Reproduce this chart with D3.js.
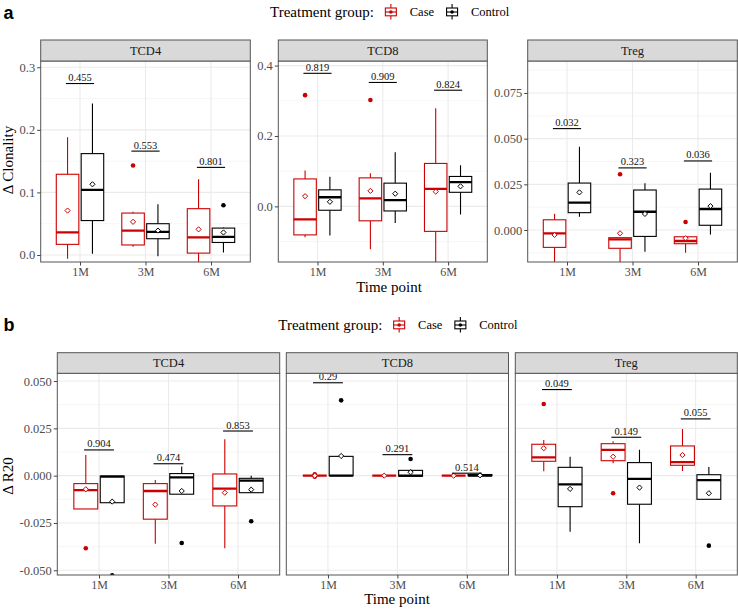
<!DOCTYPE html>
<html><head><meta charset="utf-8">
<script src="https://cdn.jsdelivr.net/npm/d3@7"></script>
<style>body{margin:0;background:#fff} svg{display:block}</style>
</head><body>
<svg id="chart" width="738" height="610"></svg>
<script>
// ---------------- DATA ----------------
const timepoints = ["1M", "3M", "6M"];
const groups = ["Case", "Control"];
const cells = ["TCD4", "TCD8", "Treg"];

// box summaries: [time, group, whiskerLow, q1, median, q3, whiskerHigh, mean]
const clonTCD4 = [
  ["1M","Case",   -0.006, 0.017, 0.036, 0.129, 0.188, 0.071],
  ["1M","Control", 0.002, 0.055, 0.104, 0.162, 0.242, 0.113],
  ["3M","Case",    0.013, 0.016, 0.039, 0.067, 0.069, 0.053],
  ["3M","Control",-0.002, 0.026, 0.037, 0.050, 0.081, 0.039],
  ["6M","Case",   -0.030, 0.003, 0.028, 0.074, 0.121, 0.041],
  ["6M","Control", 0.004, 0.020, 0.029, 0.043, 0.044, 0.036]
];
const clonTCD8 = [
  ["1M","Case",   -0.088,-0.081,-0.037, 0.078, 0.102, 0.029],
  ["1M","Control",-0.083,-0.011, 0.026, 0.047, 0.084, 0.013],
  ["3M","Case",   -0.122,-0.041, 0.023, 0.081, 0.094, 0.044],
  ["3M","Control",-0.047,-0.013, 0.018, 0.066, 0.154, 0.036],
  ["6M","Case",   -0.200,-0.071, 0.050, 0.122, 0.279, 0.042],
  ["6M","Control",-0.023, 0.040, 0.069, 0.085, 0.117, 0.057]
];
const clonTreg = [
  ["1M","Case",   -0.025,-0.0095,-0.0018, 0.0056, 0.0089,-0.0027],
  ["1M","Control", 0.0073,0.0095, 0.0150, 0.0257, 0.0456, 0.0206],
  ["3M","Case",   -0.020,-0.0100,-0.0051,-0.0042,-0.0042,-0.0018],
  ["3M","Control",-0.0119,-0.0035,0.0100, 0.0219, 0.0256, 0.0088],
  ["6M","Case",   -0.0124,-0.0075,-0.0060,-0.0037,-0.0036,-0.0045],
  ["6M","Control",-0.0024,0.0026, 0.0115, 0.0224, 0.0314, 0.0131]
];
const r20TCD4 = [
  ["1M","Case",   -0.0176,-0.0176,-0.0076,-0.0042, 0.0109,-0.0072],
  ["1M","Control",-0.0143,-0.0143,-0.0005,-0.0002,-0.0002,-0.0137],
  ["3M","Case",   -0.0360,-0.0230,-0.0081,-0.0042,-0.0023,-0.0153],
  ["3M","Control",-0.0098,-0.0098,-0.0009, 0.0011, 0.0048,-0.0081],
  ["6M","Case",   -0.0384,-0.0160,-0.0069, 0.0009, 0.0192,-0.0090],
  ["6M","Control",-0.0090,-0.0090,-0.0026,-0.0014, 0.0000,-0.0074]
];
const r20TCD8 = [
  ["1M","Case",    0, 0, 0, 0, 0, 0],
  ["1M","Control", 0, 0, 0, 0.0102, 0.0102, 0.0104],
  ["3M","Case",    0, 0, 0, 0, 0, 0],
  ["3M","Control",-0.0003,-0.0003, 0, 0.0028, 0.0033, 0.0018],
  ["6M","Case",    0, 0, 0, 0, 0, 0],
  ["6M","Control", 0, 0, 0, 0.0006, 0.0006, 0.0002]
];
const r20Treg = [
  ["1M","Case",    0.0023, 0.0076, 0.0097, 0.0166, 0.0189, 0.0145],
  ["1M","Control",-0.0296,-0.0164,-0.0046, 0.0044, 0.0100,-0.0070],
  ["3M","Case",    0.0065, 0.0079, 0.0136, 0.0169, 0.0182, 0.0100],
  ["3M","Control",-0.0357,-0.0151,-0.0017, 0.0069, 0.0137,-0.0063],
  ["6M","Case",    0.0025, 0.0055, 0.0072, 0.0157, 0.0247, 0.0109],
  ["6M","Control",-0.0125,-0.0125,-0.0024, 0.0005, 0.0046,-0.0093]
];

// outliers: [time, group, value]
const clonTCD4Out = [["3M","Case",0.143],["6M","Control",0.0794]];
const clonTCD8Out = [["1M","Case",0.316],["3M","Case",0.302]];
const clonTregOut = [["3M","Case",0.0305],["6M","Case",0.0044]];
const r20TCD4Out = [["1M","Case",-0.0384],["1M","Control",-0.0527],["3M","Control",-0.0356],["6M","Control",-0.0241]];
const r20TCD8Out = [["1M","Case",0.0007],["1M","Case",-0.0006],["1M","Case",0.0002],["1M","Control",0.0398],["3M","Control",0.0088]];
const r20TregOut = [["1M","Case",0.0379],["3M","Case",-0.0093],["6M","Control",-0.0370]];

// p-values: [time, label, bracket height]
const clonTCD4P = [["1M","0.455",0.274],["3M","0.553",0.166],["6M","0.801",0.140]];
const clonTCD8P = [["1M","0.819",0.378],["3M","0.909",0.352],["6M","0.824",0.330]];
const clonTregP = [["1M","0.032",0.0555],["3M","0.323",0.034],["6M","0.036",0.0378]];
const r20TCD4P = [["1M","0.904",0.0136],["3M","0.474",0.0063],["6M","0.853",0.0236]];
const r20TCD8P = [["1M","0.29",0.0491],["3M","0.291",0.0111],["6M","0.514",0.0013]];
const r20TregP = [["1M","0.049",0.0455],["3M","0.149",0.0203],["6M","0.055",0.030]];

// axis limits & ticks
const clonTCD4Lim = [-0.0112, 0.310], clonTCD4Ticks = [0, 0.1, 0.2, 0.3];
const clonTCD8Lim = [-0.158, 0.413],  clonTCD8Ticks = [0, 0.2, 0.4];
const clonTregLim = [-0.0175, 0.0925], clonTregTicks = [0, 0.025, 0.05, 0.075];
const r20Lim = [-0.0525, 0.0541], r20Ticks = [-0.05, -0.025, 0, 0.025, 0.05];

// ---------------- DRAWING ----------------
const svg = d3.select("#chart");
const SERIF = "'Liberation Serif','Times New Roman',Times,serif";
const SANS = "'Liberation Sans',Arial,Helvetica,sans-serif";
const colorOf = g => g === "Case" ? "#cc0000" : "#000000";
const noMinus = f => v => f(v).replace("\u2212", "-");
let clipId = 0;

function midpoints(t) {
  const out = [];
  for (let i = 0; i < t.length - 1; i++) out.push((t[i] + t[i+1]) / 2);
  const d = t[1] - t[0];
  out.unshift(t[0] - d/2); out.push(t[t.length-1] + d/2);
  return out;
}

function drawFacet(o) {
  const g = svg.append("g");
  const xs = d3.scalePoint().domain(timepoints).range([o.x0, o.x1]).padding(0.6);
  const step = xs.step();
  const ys = d3.scaleLinear().domain(o.domain).range([o.y1, o.y0]);
  const dodge = grp => (grp === "Case" ? -0.19 : 0.19) * step;
  const hw = 0.172 * step;

  g.append("rect").attr("x", o.x0).attr("y", o.y0).attr("width", o.x1 - o.x0).attr("height", o.y1 - o.y0).attr("fill", "#fff");
  const [lo, hi] = o.domain;
  g.selectAll(".mn").data(midpoints(o.ticks).filter(v => v > lo && v < hi)).join("line")
    .attr("x1", o.x0).attr("x2", o.x1).attr("y1", d => ys(d)).attr("y2", d => ys(d))
    .attr("stroke", "#f2f2f2").attr("stroke-width", 0.7);
  g.selectAll(".mj").data(o.ticks).join("line")
    .attr("x1", o.x0).attr("x2", o.x1).attr("y1", d => ys(d)).attr("y2", d => ys(d))
    .attr("stroke", "#ebebeb").attr("stroke-width", 1.1);
  g.selectAll(".mjx").data(timepoints).join("line")
    .attr("x1", d => xs(d)).attr("x2", d => xs(d)).attr("y1", o.y0).attr("y2", o.y1)
    .attr("stroke", "#ebebeb").attr("stroke-width", 1.1);

  const cid = "clip" + (clipId++);
  g.append("clipPath").attr("id", cid).append("rect")
    .attr("x", o.x0).attr("y", o.y0).attr("width", o.x1 - o.x0).attr("height", o.y1 - o.y0);
  const p = g.append("g").attr("clip-path", `url(#${cid})`);

  o.stats.forEach(s => {
    const [t, grp, wl, q1, med, q3, wh, mean] = s;
    const cx = xs(t) + dodge(grp), col = colorOf(grp);
    const bg = p.append("g");
    bg.append("line").attr("x1", cx).attr("x2", cx).attr("y1", ys(q3)).attr("y2", ys(wh)).attr("stroke", col).attr("stroke-width", 1.1);
    bg.append("line").attr("x1", cx).attr("x2", cx).attr("y1", ys(q1)).attr("y2", ys(wl)).attr("stroke", col).attr("stroke-width", 1.1);
    bg.append("rect").attr("x", cx - hw).attr("width", 2 * hw)
      .attr("y", ys(q3)).attr("height", Math.max(0, ys(q1) - ys(q3)))
      .attr("fill", "#fff").attr("stroke", col).attr("stroke-width", 1.1);
    bg.append("line").attr("x1", cx - hw).attr("x2", cx + hw).attr("y1", ys(med)).attr("y2", ys(med))
      .attr("stroke", col).attr("stroke-width", 2.3);
  });
  o.outliers.forEach(([t, grp, v]) => {
    p.append("circle").attr("cx", xs(t) + dodge(grp)).attr("cy", ys(v)).attr("r", 2.3).attr("fill", colorOf(grp));
  });
  o.stats.forEach(s => {
    const cx = xs(s[0]) + dodge(s[1]), cy = ys(s[7]), r = 2.6;
    p.append("path").attr("d", `M${cx},${cy - r}L${cx + r},${cy}L${cx},${cy + r}L${cx - r},${cy}Z`)
      .attr("fill", "#fff").attr("stroke", colorOf(s[1])).attr("stroke-width", 1);
  });
  o.pvals.forEach(([t, lab, h]) => {
    const y = ys(h);
    g.append("line").attr("x1", xs(t) - 0.215 * step).attr("x2", xs(t) + 0.215 * step)
      .attr("y1", y).attr("y2", y).attr("stroke", "#000").attr("stroke-width", 1.1);
    g.append("text").attr("x", xs(t)).attr("y", y - 2.5).attr("text-anchor", "middle")
      .attr("font-family", SERIF).attr("font-size", 10.5).attr("fill", "#111").text(lab);
  });

  g.append("rect").attr("x", o.x0).attr("y", o.y0).attr("width", o.x1 - o.x0).attr("height", o.y1 - o.y0)
    .attr("fill", "none").attr("stroke", "#555").attr("stroke-width", 1);
  g.append("rect").attr("x", o.x0).attr("y", o.stripTop).attr("width", o.x1 - o.x0).attr("height", o.y0 - o.stripTop)
    .attr("fill", "#d9d9d9").attr("stroke", "#555").attr("stroke-width", 1);
  g.append("text").attr("x", (o.x0 + o.x1) / 2).attr("y", (o.y0 + o.stripTop) / 2).attr("dy", "0.35em")
    .attr("text-anchor", "middle").attr("font-family", SERIF).attr("font-size", 12.5).attr("fill", "#1a1a1a").text(o.title);

  const ax = g.append("g").attr("transform", `translate(0,${o.y1})`)
    .call(d3.axisBottom(xs).tickSize(3.5).tickPadding(2));
  ax.attr("font-family", SERIF);
  ax.select(".domain").remove();
  ax.selectAll("line").attr("stroke", "#444");
  ax.selectAll("text").attr("font-family", SERIF).attr("font-size", 12).attr("fill", "#4d4d4d");
  if (o.showY) {
    const ay = g.append("g").attr("transform", `translate(${o.x0},0)`)
      .call(d3.axisLeft(ys).tickValues(o.ticks).tickSize(3.5).tickPadding(2).tickFormat(o.fmt));
    ay.attr("font-family", SERIF);
    ay.select(".domain").remove();
    ay.selectAll("line").attr("stroke", "#444");
    ay.selectAll("text").attr("font-family", SERIF).attr("font-size", 12.5).attr("fill", "#4d4d4d");
  }
}

function legend(cx, cy) {
  const g = svg.append("g");
  const title = g.append("text").attr("y", cy).attr("dy", "0.35em").attr("font-family", SERIF).attr("font-size", 15)
    .attr("fill", "#000").text("Treatment group:");
  const tw = title.node().getComputedTextLength();
  const labs = groups.map(gr => {
    const t = g.append("text").attr("y", cy).attr("dy", "0.35em").attr("font-family", SERIF).attr("font-size", 12.5).attr("fill", "#000").text(gr);
    return { t, w: t.node().getComputedTextLength(), gr };
  });
  const total = tw + 16.8 + 18.9 + labs[0].w + 18 + 17.7 + labs[1].w;
  let x = cx - total / 2;
  title.attr("x", x); x += tw + 16.8;
  labs.forEach((l, i) => {
    const col = colorOf(l.gr);
    g.append("line").attr("x1", x).attr("x2", x).attr("y1", cy - 8).attr("y2", cy + 7.5).attr("stroke", col).attr("stroke-width", 1.1);
    g.append("rect").attr("x", x - 5.5).attr("y", cy - 4).attr("width", 11).attr("height", 7.8)
      .attr("fill", "#fff").attr("stroke", col).attr("stroke-width", 1.1);
    g.append("line").attr("x1", x - 5.5).attr("x2", x + 5.5).attr("y1", cy).attr("y2", cy).attr("stroke", col).attr("stroke-width", 1.1);
    g.append("circle").attr("cx", x).attr("cy", cy).attr("r", 1.8).attr("fill", col);
    x += 18.9;
    l.t.attr("x", x);
    x += l.w + (i === 0 ? 18 : 0);
  });
}

// ---------- Panel a ----------
const fmt1 = noMinus(d3.format(".1f")), fmt3 = noMinus(d3.format(".3f"));
const aTop = 40, aY0 = 61, aY1 = 262;
const aFacets = [
  { x0: 40.7, x1: 250.3, stats: clonTCD4, outliers: clonTCD4Out, pvals: clonTCD4P, domain: clonTCD4Lim, ticks: clonTCD4Ticks, fmt: fmt1 },
  { x0: 278.3, x1: 487.3, stats: clonTCD8, outliers: clonTCD8Out, pvals: clonTCD8P, domain: clonTCD8Lim, ticks: clonTCD8Ticks, fmt: fmt1 },
  { x0: 527.7, x1: 737.3, stats: clonTreg, outliers: clonTregOut, pvals: clonTregP, domain: clonTregLim, ticks: clonTregTicks, fmt: fmt3 }
];
aFacets.forEach((f, i) => drawFacet(Object.assign({ y0: aY0, y1: aY1, stripTop: aTop, title: cells[i], showY: true }, f)));

// ---------- Panel b ----------
const bTop = 352.7, bY0 = 373.3, bY1 = 575;
const bFacets = [
  { x0: 57.3, x1: 279.7, stats: r20TCD4, outliers: r20TCD4Out, pvals: r20TCD4P },
  { x0: 286.3, x1: 508.5, stats: r20TCD8, outliers: r20TCD8Out, pvals: r20TCD8P },
  { x0: 515.3, x1: 737.3, stats: r20Treg, outliers: r20TregOut, pvals: r20TregP }
];
bFacets.forEach((f, i) => drawFacet(Object.assign({ y0: bY0, y1: bY1, stripTop: bTop, title: cells[i], showY: i === 0,
  domain: r20Lim, ticks: r20Ticks, fmt: fmt3 }, f)));

// titles
svg.append("text").attr("x", 389).attr("y", 291.5).attr("text-anchor", "middle").attr("font-family", SERIF).attr("font-size", 15).text("Time point");
svg.append("text").attr("x", 397).attr("y", 604).attr("text-anchor", "middle").attr("font-family", SERIF).attr("font-size", 15).text("Time point");
svg.append("text").attr("transform", "translate(13,160) rotate(-90)").attr("text-anchor", "middle").attr("font-family", SERIF).attr("font-size", 15).text("\u0394 Clonality");
svg.append("text").attr("transform", "translate(13,476) rotate(-90)").attr("text-anchor", "middle").attr("font-family", SERIF).attr("font-size", 15).text("\u0394 R20");
svg.append("text").attr("x", 3.5).attr("y", 18.5).attr("font-family", SANS).attr("font-weight", "bold").attr("font-size", 18).text("a");
svg.append("text").attr("x", 3.5).attr("y", 331).attr("font-family", SANS).attr("font-weight", "bold").attr("font-size", 18).text("b");

legend((40.7 + 737.3) / 2, 12);
legend((57.3 + 737.3) / 2, 325);
</script>
</body></html>
